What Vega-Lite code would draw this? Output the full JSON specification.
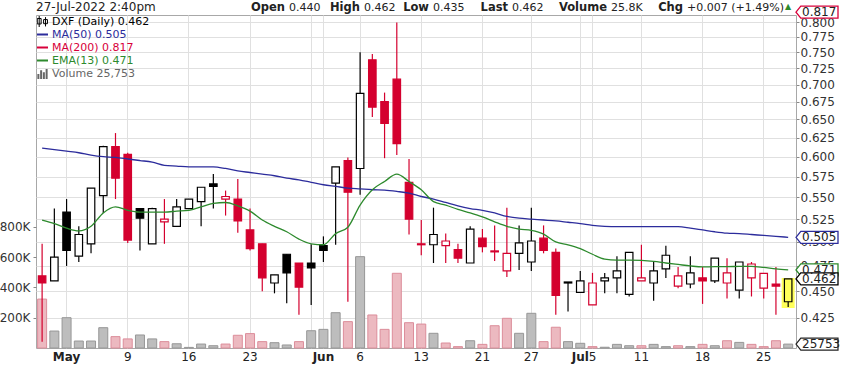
{
"$schema":"https://vega.github.io/schema/vega-lite/v6.json",
"width":760,"height":333,"autosize":"none",
"padding":{"left":36,"top":15,"right":45,"bottom":20},
"background":"white",
"config":{"font":"DejaVu Sans","view":{"stroke":"#a8a8a8","strokeWidth":1},
 "axis":{"labelFont":"DejaVu Sans","labelFontSize":12,"labelColor":"#333","title":null,"gridColor":"#e0e0e0","gridWidth":1,"domain":false,"tickColor":"#888"},
 "text":{"font":"DejaVu Sans"}},
"datasets":{"d":[
{"date":"2022-04-28","open":0.465,"high":0.498,"low":0.404,"close":0.458,"volume":323000,"ma50":0.611,"ema13":0.524},
{"date":"2022-04-29","open":0.460,"high":0.537,"low":0.460,"close":0.484,"volume":112000,"ma50":0.609,"ema13":0.520},
{"date":"2022-05-02","open":0.533,"high":0.548,"low":0.475,"close":0.491,"volume":200000,"ma50":0.607,"ema13":0.515},
{"date":"2022-05-03","open":0.485,"high":0.517,"low":0.479,"close":0.508,"volume":46000,"ma50":0.605,"ema13":0.512},
{"date":"2022-05-04","open":0.498,"high":0.561,"low":0.488,"close":0.561,"volume":46000,"ma50":0.602,"ema13":0.517},
{"date":"2022-05-05","open":0.552,"high":0.614,"low":0.532,"close":0.613,"volume":134000,"ma50":0.600,"ema13":0.532},
{"date":"2022-05-06","open":0.613,"high":0.631,"low":0.548,"close":0.573,"volume":75000,"ma50":0.599,"ema13":0.539},
{"date":"2022-05-09","open":0.603,"high":0.605,"low":0.499,"close":0.502,"volume":60000,"ma50":0.597,"ema13":0.535},
{"date":"2022-05-10","open":0.537,"high":0.537,"low":0.491,"close":0.526,"volume":86000,"ma50":0.595,"ema13":0.533},
{"date":"2022-05-11","open":0.498,"high":0.538,"low":0.498,"close":0.537,"volume":60000,"ma50":0.593,"ema13":0.533},
{"date":"2022-05-12","open":0.522,"high":0.548,"low":0.498,"close":0.525,"volume":42000,"ma50":0.589,"ema13":0.533},
{"date":"2022-05-13","open":0.517,"high":0.548,"low":0.517,"close":0.539,"volume":28000,"ma50":0.588,"ema13":0.534},
{"date":"2022-05-16","open":0.537,"high":0.548,"low":0.537,"close":0.548,"volume":4000,"ma50":0.587,"ema13":0.535},
{"date":"2022-05-17","open":0.545,"high":0.562,"low":0.517,"close":0.562,"volume":26000,"ma50":0.587,"ema13":0.539},
{"date":"2022-05-18","open":0.566,"high":0.578,"low":0.537,"close":0.563,"volume":15000,"ma50":0.587,"ema13":0.543},
{"date":"2022-05-19","open":0.548,"high":0.558,"low":0.529,"close":0.551,"volume":26000,"ma50":0.585,"ema13":0.544},
{"date":"2022-05-20","open":0.548,"high":0.572,"low":0.510,"close":0.523,"volume":84000,"ma50":0.582,"ema13":0.540},
{"date":"2022-05-23","open":0.513,"high":0.537,"low":0.491,"close":0.493,"volume":95000,"ma50":0.580,"ema13":0.534},
{"date":"2022-05-24","open":0.498,"high":0.498,"low":0.450,"close":0.463,"volume":42000,"ma50":0.578,"ema13":0.524},
{"date":"2022-05-25","open":0.458,"high":0.466,"low":0.448,"close":0.466,"volume":35000,"ma50":0.576,"ema13":0.517},
{"date":"2022-05-26","open":0.487,"high":0.487,"low":0.4385,"close":0.468,"volume":20000,"ma50":0.573,"ema13":0.511},
{"date":"2022-05-27","open":0.478,"high":0.478,"low":0.428,"close":0.454,"volume":42000,"ma50":0.571,"ema13":0.503},
{"date":"2022-05-31","open":0.478,"high":0.4975,"low":0.437,"close":0.473,"volume":114000,"ma50":0.568,"ema13":0.498},
{"date":"2022-06-01","open":0.496,"high":0.506,"low":0.479,"close":0.491,"volume":123000,"ma50":0.565,"ema13":0.497},
{"date":"2022-06-02","open":0.567,"high":0.587,"low":0.497,"close":0.587,"volume":233000,"ma50":0.563,"ema13":0.509},
{"date":"2022-06-03","open":0.595,"high":0.599,"low":0.440,"close":0.556,"volume":174000,"ma50":0.561,"ema13":0.516},
{"date":"2022-06-06","open":0.585,"high":0.750,"low":0.553,"close":0.687,"volume":603000,"ma50":0.560,"ema13":0.541},
{"date":"2022-06-07","open":0.738,"high":0.747,"low":0.653,"close":0.667,"volume":218000,"ma50":0.559,"ema13":0.559},
{"date":"2022-06-08","open":0.675,"high":0.688,"low":0.598,"close":0.644,"volume":123000,"ma50":0.5585,"ema13":0.569},
{"date":"2022-06-09","open":0.708,"high":0.799,"low":0.602,"close":0.617,"volume":493000,"ma50":0.557,"ema13":0.578},
{"date":"2022-06-10","open":0.568,"high":0.597,"low":0.508,"close":0.525,"volume":167000,"ma50":0.555,"ema13":0.569},
{"date":"2022-06-13","open":0.498,"high":0.524,"low":0.486,"close":0.497,"volume":158000,"ma50":0.551,"ema13":0.559},
{"date":"2022-06-14","open":0.497,"high":0.538,"low":0.478,"close":0.508,"volume":97000,"ma50":0.548,"ema13":0.545},
{"date":"2022-06-15","open":0.496,"high":0.509,"low":0.478,"close":0.501,"volume":33000,"ma50":0.544,"ema13":0.541},
{"date":"2022-06-16","open":0.492,"high":0.498,"low":0.478,"close":0.483,"volume":9000,"ma50":0.540,"ema13":0.536},
{"date":"2022-06-17","open":0.478,"high":0.517,"low":0.478,"close":0.514,"volume":48000,"ma50":0.537,"ema13":0.532},
{"date":"2022-06-21","open":0.504,"high":0.514,"low":0.489,"close":0.495,"volume":24000,"ma50":0.535,"ema13":0.5275},
{"date":"2022-06-22","open":0.4905,"high":0.518,"low":0.480,"close":0.4895,"volume":147000,"ma50":0.532,"ema13":0.522},
{"date":"2022-06-23","open":0.470,"high":0.538,"low":0.464,"close":0.488,"volume":196000,"ma50":0.528,"ema13":0.517},
{"date":"2022-06-24","open":0.488,"high":0.518,"low":0.471,"close":0.499,"volume":97000,"ma50":0.526,"ema13":0.514},
{"date":"2022-06-27","open":0.479,"high":0.538,"low":0.470,"close":0.501,"volume":229000,"ma50":0.525,"ema13":0.5125},
{"date":"2022-06-28","open":0.504,"high":0.518,"low":0.488,"close":0.491,"volume":42000,"ma50":0.524,"ema13":0.5085},
{"date":"2022-06-29","open":0.489,"high":0.493,"low":0.428,"close":0.446,"volume":137000,"ma50":0.523,"ema13":0.500},
{"date":"2022-06-30","open":0.458,"high":0.459,"low":0.431,"close":0.459,"volume":42000,"ma50":0.5215,"ema13":0.497},
{"date":"2022-07-01","open":0.449,"high":0.470,"low":0.449,"close":0.460,"volume":31000,"ma50":0.520,"ema13":0.493},
{"date":"2022-07-05","open":0.437,"high":0.468,"low":0.437,"close":0.458,"volume":9000,"ma50":0.518,"ema13":0.487},
{"date":"2022-07-06","open":0.460,"high":0.468,"low":0.448,"close":0.463,"volume":5000,"ma50":0.517,"ema13":0.482},
{"date":"2022-07-07","open":0.463,"high":0.485,"low":0.448,"close":0.470,"volume":24000,"ma50":0.5166,"ema13":0.481},
{"date":"2022-07-08","open":0.447,"high":0.489,"low":0.445,"close":0.489,"volume":15000,"ma50":0.5166,"ema13":0.481},
{"date":"2022-07-11","open":0.460,"high":0.497,"low":0.460,"close":0.463,"volume":15000,"ma50":0.5166,"ema13":0.4806},
{"date":"2022-07-12","open":0.458,"high":0.480,"low":0.441,"close":0.470,"volume":24000,"ma50":0.5166,"ema13":0.4796},
{"date":"2022-07-13","open":0.472,"high":0.496,"low":0.463,"close":0.486,"volume":9000,"ma50":0.5166,"ema13":0.478},
{"date":"2022-07-14","open":0.455,"high":0.474,"low":0.453,"close":0.465,"volume":15000,"ma50":0.5166,"ema13":0.4765},
{"date":"2022-07-15","open":0.457,"high":0.485,"low":0.453,"close":0.468,"volume":9000,"ma50":0.515,"ema13":0.475},
{"date":"2022-07-18","open":0.463,"high":0.474,"low":0.438,"close":0.460,"volume":24000,"ma50":0.513,"ema13":0.474},
{"date":"2022-07-19","open":0.460,"high":0.483,"low":0.458,"close":0.483,"volume":15000,"ma50":0.511,"ema13":0.4743},
{"date":"2022-07-20","open":0.458,"high":0.483,"low":0.443,"close":0.468,"volume":48000,"ma50":0.5095,"ema13":0.4743},
{"date":"2022-07-21","open":0.451,"high":0.479,"low":0.443,"close":0.479,"volume":37000,"ma50":0.509,"ema13":0.4746},
{"date":"2022-07-22","open":0.463,"high":0.479,"low":0.445,"close":0.477,"volume":24000,"ma50":0.508,"ema13":0.4746},
{"date":"2022-07-25","open":0.453,"high":0.4676,"low":0.443,"close":0.4676,"volume":9000,"ma50":0.507,"ema13":0.4735,"ma200":0.826},
{"date":"2022-07-26","open":0.457,"high":0.474,"low":0.428,"close":0.455,"volume":48000,"ma50":0.506,"ema13":0.472,"ma200":0.821},
{"date":"2022-07-27","open":0.440,"high":0.462,"low":0.435,"close":0.462,"volume":25753,"ma50":0.505,"ema13":0.471,"ma200":0.817}
]},
"data":{"name":"d"},
"transform":[{"window":[{"op":"lag","field":"close","as":"prev"}],"sort":[{"field":"date","order":"ascending"}]}],
"layer":[
 {"layer":[
  {"mark":{"type":"bar","width":9,"strokeWidth":1},
   "encoding":{
    "x":{"field":"date","type":"ordinal","scale":{"type":"band","paddingInner":0,"paddingOuter":0.07,"align":0},
     "axis":{"values":["2022-05-02","2022-05-09","2022-05-16","2022-05-23","2022-05-31","2022-06-01","2022-06-06","2022-06-13","2022-06-21","2022-06-27","2022-07-01","2022-07-05","2022-07-11","2022-07-18","2022-07-25"],
      "labelExpr":"datum.value=='2022-05-02'?'May':datum.value=='2022-06-01'?'Jun':datum.value=='2022-07-01'?'Jul':datum.value=='2022-05-31'?'':toNumber(substring(datum.value,8,10))+''",
      "labelFontWeight":{"condition":{"test":"datum.value=='2022-05-02'||datum.value=='2022-06-01'||datum.value=='2022-07-01'","value":"bold"},"value":"normal"},
      "labelAngle":0,"labelOverlap":false,"ticks":false,"grid":true,"bandPosition":0.5,"labelPadding":3,"labelColor":"#222","labelBaseline":"top","title":null}},
    "y":{"field":"volume","type":"quantitative","scale":{"domain":[0,2198000],"nice":false,"zero":true},
     "axis":{"orient":"left","values":[200000,400000,600000,800000],"labelExpr":"(datum.value/1000)+'K'","grid":false,"tickSize":3,"labelPadding":3,"title":null}},
    "fill":{"condition":{"test":"datum.prev==null||datum.close<datum.prev","value":"#ecb9c0"},"value":"#bdbdbd"},
    "stroke":{"condition":{"test":"datum.prev==null||datum.close<datum.prev","value":"#dc8d9a"},"value":"#979797"}}},
  {"transform":[{"filter":"datum.date=='2022-07-27'"}],
   "mark":{"type":"point","shape":"M0,0L0.8,-1H7V1H0.8Z","size":144,"filled":false,"fill":"white","stroke":"#222","strokeWidth":1.2,"opacity":1,"x":"width"},
   "encoding":{"y":{"field":"volume","type":"quantitative"}}},
  {"transform":[{"filter":"datum.date=='2022-07-27'"}],
   "mark":{"type":"text","x":"width","dx":6,"align":"left","baseline":"middle","fontSize":12,"color":"#222"},
   "encoding":{"y":{"field":"volume","type":"quantitative"},"text":{"field":"volume","type":"quantitative","format":"d"}}}
 ]},
 {"layer":[
  {"transform":[{"filter":"datum.date=='2022-07-27'"}],
   "mark":{"type":"bar","width":11,"color":"#ffff59","stroke":"#ffff59","strokeWidth":2},
   "encoding":{"x":{"field":"date","type":"ordinal"},
    "y":{"field":"high","type":"quantitative","scale":{"type":"log","domain":[0.3986,0.8121],"nice":false},
     "axis":{"orient":"right","values":[0.425,0.45,0.475,0.5,0.525,0.55,0.575,0.6,0.625,0.65,0.675,0.7,0.725,0.75,0.775,0.8],"format":".3f","grid":true,"tickSize":3,"labelPadding":1,"title":null}},
    "y2":{"field":"low"}}},
  {"mark":{"type":"rule","strokeWidth":1.2,"clip":true},
   "encoding":{"x":{"field":"date","type":"ordinal"},"y":{"field":"low","type":"quantitative"},"y2":{"field":"high"},
    "stroke":{"condition":{"test":"datum.prev==null||datum.close<datum.prev","value":"#d4002e"},"value":"#000000"}}},
  {"mark":{"type":"bar","width":7.5,"strokeWidth":1.2,"clip":true},
   "encoding":{"x":{"field":"date","type":"ordinal"},"y":{"field":"open","type":"quantitative"},"y2":{"field":"close"},
    "fill":{"condition":[{"test":"datum.date=='2022-07-27'","value":"#ffff59"},{"test":"datum.close<datum.open&&(datum.prev==null||datum.close<datum.prev)","value":"#d4002e"},{"test":"datum.close<datum.open","value":"#000000"}],"value":"#ffffff"},
    "stroke":{"condition":{"test":"datum.prev==null||datum.close<datum.prev","value":"#d4002e"},"value":"#000000"}}},
  {"transform":[{"fold":["ma50","ema13","ma200"],"as":["key","value"]},{"filter":"datum.value!=null"}],
   "mark":{"type":"line","strokeWidth":1.3,"clip":true,"interpolate":"monotone"},
   "encoding":{"x":{"field":"date","type":"ordinal"},"y":{"field":"value","type":"quantitative"},
    "color":{"field":"key","type":"nominal","scale":{"domain":["close","ma50","ma200","ema13","volume"],"range":["#000000","#2c2c9c","#d8003a","#2d8a2d","#666666"]},
     "legend":{"orient":"top-left","title":null,"offset":1,"padding":0,"labelFont":"DejaVu Sans","labelFontSize":11,"symbolSize":121,"symbolStrokeWidth":2,"symbolType":"stroke","rowPadding":1,"clipHeight":11,"labelOffset":4,
      "labelExpr":"{'close':'DXF (Daily) 0.462','ma50':'MA(50) 0.505','ma200':'MA(200) 0.817','ema13':'EMA(13) 0.471','volume':'Volume 25,753'}[datum.value]",
      "encode":{"symbols":{"update":{"shape":{"signal":"datum.value=='close'?'M-0.6,-1V1M-0.95,-0.55H-0.25V0.45H-0.95ZM0.55,-0.8V0.9M0.2,-0.35H0.9V0.4H0.2Z':datum.value=='volume'?'M-0.75,1V0.1M-0.25,1V-0.6M0.25,1V-0.25M0.75,1V-0.8':'M-1,0H1'"},"strokeWidth":{"signal":"datum.value=='close'?1:2"}}},
       "labels":{"update":{"fill":{"scale":"color","field":"value"}}}}}}}},
  {"transform":[{"filter":"datum.date=='2022-07-27'"},{"fold":["ma200","ma50","ema13","close"],"as":["key","value"]}],
   "mark":{"type":"point","shape":"M0,0L0.8,-1H7V1H0.8Z","size":144,"filled":false,"fill":"white","strokeWidth":1.3,"opacity":1,"x":"width"},
   "encoding":{"y":{"field":"value","type":"quantitative"},"color":{"field":"key","type":"nominal","legend":null}}},
  {"transform":[{"filter":"datum.date=='2022-07-27'"},{"fold":["ma200","ma50","ema13","close"],"as":["key","value"]}],
   "mark":{"type":"text","x":"width","dx":6,"align":"left","baseline":"middle","fontSize":12,"color":"#222"},
   "encoding":{"y":{"field":"value","type":"quantitative"},"text":{"field":"value","type":"quantitative","format":".3f"},
    "fontWeight":{"condition":{"test":"datum.key=='close'","value":"bold"},"value":"normal"}}},
  {"data":{"values":[{}]},"mark":{"type":"text","x":0,"y":-4,"align":"left","baseline":"alphabetic","fontSize":12,"color":"#222","text":"27-Jul-2022 2:40pm"}},
  {"data":{"values":[{}]},"mark":{"type":"text","x":249,"y":-4,"align":"right","baseline":"alphabetic","fontSize":11.5,"fontWeight":"bold","color":"#222","text":"Open"}},
  {"data":{"values":[{}]},"mark":{"type":"text","x":253,"y":-4,"align":"left","baseline":"alphabetic","fontSize":11,"color":"#222","text":"0.440"}},
  {"data":{"values":[{}]},"mark":{"type":"text","x":324,"y":-4,"align":"right","baseline":"alphabetic","fontSize":11.5,"fontWeight":"bold","color":"#222","text":"High"}},
  {"data":{"values":[{}]},"mark":{"type":"text","x":328,"y":-4,"align":"left","baseline":"alphabetic","fontSize":11,"color":"#222","text":"0.462"}},
  {"data":{"values":[{}]},"mark":{"type":"text","x":393,"y":-4,"align":"right","baseline":"alphabetic","fontSize":11.5,"fontWeight":"bold","color":"#222","text":"Low"}},
  {"data":{"values":[{}]},"mark":{"type":"text","x":397,"y":-4,"align":"left","baseline":"alphabetic","fontSize":11,"color":"#222","text":"0.435"}},
  {"data":{"values":[{}]},"mark":{"type":"text","x":472,"y":-4,"align":"right","baseline":"alphabetic","fontSize":11.5,"fontWeight":"bold","color":"#222","text":"Last"}},
  {"data":{"values":[{}]},"mark":{"type":"text","x":476,"y":-4,"align":"left","baseline":"alphabetic","fontSize":11,"color":"#222","text":"0.462"}},
  {"data":{"values":[{}]},"mark":{"type":"text","x":571,"y":-4,"align":"right","baseline":"alphabetic","fontSize":11.5,"fontWeight":"bold","color":"#222","text":"Volume"}},
  {"data":{"values":[{}]},"mark":{"type":"text","x":575,"y":-4,"align":"left","baseline":"alphabetic","fontSize":11,"color":"#222","text":"25.8K"}},
  {"data":{"values":[{}]},"mark":{"type":"text","x":647,"y":-4,"align":"right","baseline":"alphabetic","fontSize":11.5,"fontWeight":"bold","color":"#222","text":"Chg"}},
  {"data":{"values":[{}]},"mark":{"type":"text","x":651,"y":-4,"align":"left","baseline":"alphabetic","fontSize":11,"color":"#222","text":"+0.007 (+1.49%)"}},
  {"data":{"values":[{}]},"mark":{"type":"text","x":752,"y":-8,"align":"center","baseline":"middle","fontSize":8,"color":"#2d8a2d","text":"▲"}}
 ]}
],
"resolve":{"scale":{"y":"independent"}}
}
